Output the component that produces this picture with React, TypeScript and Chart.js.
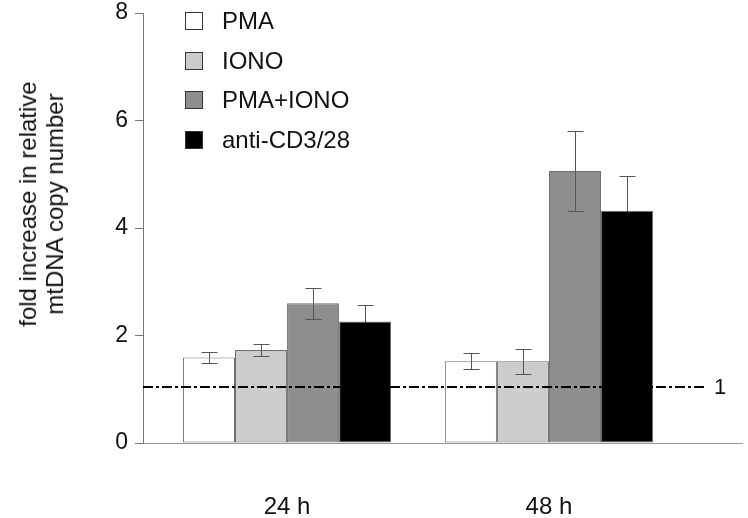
import React, { useEffect, useRef } from "react";
import { Chart, registerables } from "chart.js";

Chart.register(...registerables);

// ---- data ----
const categories = ["24 h", "48 h"];
const categoryX = [1, 2];
const seriesNames = ["PMA", "IONO", "PMA+IONO", "anti-CD3/28"];
const pmaValues = [1.59, 1.52];
const pmaErrors = [0.1, 0.15];
const ionoValues = [1.73, 1.52];
const ionoErrors = [0.11, 0.23];
const pmaIonoValues = [2.6, 5.06];
const pmaIonoErrors = [0.29, 0.75];
const antiValues = [2.26, 4.32];
const antiErrors = [0.31, 0.65];
const yTicks = [0, 2, 4, 6, 8];
const refValue = 1.04;
const refLabel = "1";
const refLineX = [0.45, 2.6];
const yTitle = ["fold increase in relative", "mtDNA copy number"];

const FONT = "'Liberation Sans', Arial, Helvetica, sans-serif";
const seriesColors = ["#ffffff", "#cccccc", "#8e8e8e", "#000000"];
const errorInnerColors = ["#555", "#555", "#555", "#000"];
const seriesValues = [pmaValues, ionoValues, pmaIonoValues, antiValues];
const seriesErrors = [pmaErrors, ionoErrors, pmaIonoErrors, antiErrors];

const errorBarPlugin = {
  id: "errorBars",
  afterDatasetsDraw(chart: any) {
    const ctx = chart.ctx;
    const yScale = chart.scales.y;
    chart.data.datasets.forEach((ds: any, i: number) => {
      if (!ds.errors) return;
      const meta = chart.getDatasetMeta(i);
      meta.data.forEach((bar: any, j: number) => {
        const v = ds.data[j].y;
        const e = ds.errors[j];
        const yTop = Math.round(yScale.getPixelForValue(v + e)) + 0.5;
        const yMid = Math.round(yScale.getPixelForValue(v)) + 0.5;
        const yBot = Math.round(yScale.getPixelForValue(v - e)) + 0.5;
        const x = Math.round(bar.x) + 0.5;
        ctx.save();
        ctx.lineWidth = 1;
        ctx.strokeStyle = ds.errorColor || "#555";
        ctx.beginPath();
        ctx.moveTo(x, yTop);
        ctx.lineTo(x, yMid);
        ctx.moveTo(x - 8, yTop);
        ctx.lineTo(x + 8, yTop);
        ctx.stroke();
        ctx.strokeStyle = ds.errorInnerColor || ds.errorColor || "#555";
        ctx.beginPath();
        ctx.moveTo(x, yMid);
        ctx.lineTo(x, yBot);
        ctx.moveTo(x - 8, yBot);
        ctx.lineTo(x + 8, yBot);
        ctx.stroke();
        ctx.restore();
      });
    });
  },
};

const refLabelPlugin = {
  id: "refLabel",
  afterDatasetsDraw(chart: any) {
    const idx = chart.data.datasets.findIndex((d: any) => d.isRef);
    if (idx < 0) return;
    const meta = chart.getDatasetMeta(idx);
    const pt = meta.data[meta.data.length - 1];
    const ctx = chart.ctx;
    ctx.save();
    ctx.fillStyle = "#111";
    ctx.font = `22px ${FONT}`;
    ctx.textAlign = "left";
    ctx.textBaseline = "middle";
    ctx.fillText(refLabel, pt.x + 8, pt.y + 1);
    ctx.restore();
  },
};

export default function App() {
  const canvasRef = useRef<HTMLCanvasElement | null>(null);

  useEffect(() => {
    if (!canvasRef.current) return;
    const barDatasets = seriesNames.map((name, s) => ({
      type: "bar" as const,
      label: name,
      data: categoryX.map((x, j) => ({ x, y: seriesValues[s][j] })),
      errors: seriesErrors[s],
      errorColor: "#555",
      errorInnerColor: errorInnerColors[s],
      backgroundColor: seriesColors[s],
      borderColor: "#6f6f6f",
      borderWidth: 1,
      borderSkipped: false,
      categoryPercentage: 0.795,
      barPercentage: 1.0,
      order: 1,
    }));
    const refDataset = {
      type: "line" as const,
      label: "ref",
      isRef: true,
      data: refLineX.map((x) => ({ x, y: refValue })),
      borderColor: "#000",
      borderWidth: 2,
      borderDash: [10, 3, 3, 3],
      pointRadius: 0,
      fill: false,
      order: -1,
    };
    const chart = new Chart(canvasRef.current, {
      type: "bar",
      data: { datasets: [...barDatasets, refDataset] as any },
      options: {
        animation: false,
        responsive: false,
        layout: { padding: { top: 13, right: 6, left: 0, bottom: 0 } },
        plugins: { legend: { display: false }, tooltip: { enabled: false } },
        scales: {
          x: {
            type: "linear",
            offset: false,
            min: 0.45,
            max: 2.737,
            afterBuildTicks: (scale: any) => {
              scale.ticks = categoryX.map((v) => ({ value: v }));
            },
            afterFit: (scale: any) => {
              scale.height = 75;
              scale.paddingLeft = 0;
              scale.paddingRight = 0;
            },
            ticks: {
              autoSkip: false,
              maxRotation: 0,
              padding: 50,
              color: "#111",
              font: { family: FONT, size: 24 },
              callback: (value: any) => {
                const k = categoryX.indexOf(Number(value));
                return k >= 0 ? categories[k] : "";
              },
            },
            grid: { display: true, drawOnChartArea: false, drawTicks: false },
            border: { display: true, color: "#999", width: 1 },
          },
          y: {
            min: 0,
            max: 8,
            afterBuildTicks: (scale: any) => {
              scale.ticks = yTicks.map((v) => ({ value: v }));
            },
            afterFit: (scale: any) => {
              scale.width = 143;
              scale.paddingTop = 0;
              scale.paddingBottom = 0;
            },
            ticks: {
              padding: 7,
              color: "#111",
              font: { family: FONT, size: 23 },
            },
            grid: { drawOnChartArea: false, drawTicks: true, tickLength: 8, color: "#777" },
            border: { display: true, color: "#777", width: 1 },
          },
        },
      } as any,
      plugins: [errorBarPlugin, refLabelPlugin],
    });
    return () => chart.destroy();
  }, []);

  const legendCenters = [21, 60.5, 100, 139.5];

  return (
    <div style={{ position: "absolute", left: 0, top: 0, width: 748, height: 518, background: "#fff", overflow: "hidden" }}>
      <canvas ref={canvasRef} width={748} height={518} style={{ position: "absolute", left: 0, top: 0 }} />
      <div
        style={{
          position: "absolute",
          left: 40.5,
          top: 204,
          transform: "translate(-50%, -50%) rotate(-90deg)",
          whiteSpace: "nowrap",
          textAlign: "center",
          fontFamily: FONT,
          fontSize: 24,
          lineHeight: "27px",
          color: "#111",
        }}
      >
        {yTitle.map((t) => (
          <div key={t}>{t}</div>
        ))}
      </div>
      {seriesNames.map((name, i) => (
        <div key={name}>
          <div
            style={{
              position: "absolute",
              left: 185,
              top: legendCenters[i] - 9,
              width: 18,
              height: 18,
              boxSizing: "border-box",
              border: "1.5px solid #333",
              background: seriesColors[i],
            }}
          />
          <div
            style={{
              position: "absolute",
              left: 222,
              top: legendCenters[i] - 14,
              height: 28,
              lineHeight: "28px",
              fontFamily: FONT,
              fontSize: 24,
              color: "#111",
              whiteSpace: "nowrap",
            }}
          >
            {name}
          </div>
        </div>
      ))}
    </div>
  );
}
